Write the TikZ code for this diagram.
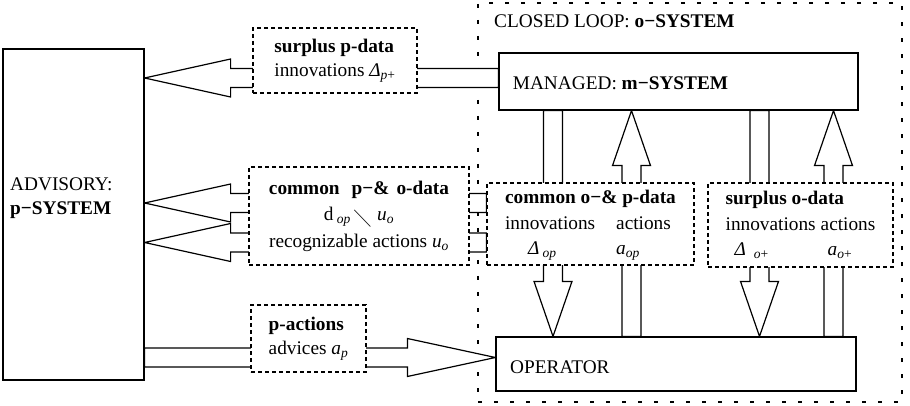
\documentclass[tikz,border=0pt]{standalone}
\usepackage{amssymb}
\usepackage{fontspec}
\setmainfont{Liberation Serif}
\usepackage{tikz}
\usetikzlibrary{calc, backgrounds}
\renewcommand{\arraystretch}{1.05}
\tikzset{
  sysblock/.style={rectangle, draw, fill=white, inner sep=0pt, line width=1.2pt},
  datablock/.style={rectangle, draw, fill=white, inner sep=0pt,
    line width=1.1pt, dash pattern=on 4pt off 3pt},
  loopblock/.style={rectangle, draw, inner sep=0pt,
    line width=1.1pt, dash pattern=on 4pt off 12pt},
  txt/.style={inner sep=0pt, anchor=base west},
  fatarrow/.style={draw, fill=white, line width=1.2pt, to path={
      ($(\tikztostart)!9.5pt!90:(\tikztotarget)$)
      -- ($(\tikztotarget)!#1!(\tikztostart)!9.5pt!90:(\tikztotarget)$)
      -- ($(\tikztotarget)!#1!(\tikztostart)!19pt!90:(\tikztotarget)$)
      -- (\tikztotarget)
      -- ($(\tikztotarget)!#1!(\tikztostart)!19pt!-90:(\tikztotarget)$)
      -- ($(\tikztotarget)!#1!(\tikztostart)!9.5pt!-90:(\tikztotarget)$)
      -- ($(\tikztostart)!9.5pt!-90:(\tikztotarget)$) -- cycle}}
}

\begin{document}
\begin{tikzpicture}[x=1pt, y=-1pt, every node/.style={font=\fontsize{19.3}{24}\selectfont}]
  \useasboundingbox (0,0) rectangle (910,406);

  % Systems
  \node[sysblock, minimum width=141pt, minimum height=331pt] (adv) at (73.5,214.5) {};
  \node[sysblock, minimum width=359pt, minimum height=57pt] (mng) at (678.5,81.5) {};
  \node[sysblock, minimum width=360pt, minimum height=54pt] (opr) at (676,364) {};

  \node[inner sep=0pt, anchor=west, align=left] (advtxt) at (10,198) {ADVISORY:\\\textbf{p−SYSTEM}};
  \node[txt] (looptxt) at (494,27.3) {CLOSED LOOP: \textbf{o−SYSTEM}};
  \node[txt] (mngtxt) at (512.7,89.3) {MANAGED: \textbf{m−SYSTEM}};
  \node[txt] (oprtxt) at (510,373.3) {OPERATOR};

  % Data boxes
  \node[datablock, minimum width=164pt, minimum height=65pt, align=left] (surp) at (335,60.5)
    {\textbf{surplus p-data}\\innovations \textit{Δ}\textsubscript{\textit{p}+}};
  \node[datablock, minimum width=220pt, minimum height=98pt, align=center] (comm) at (359,216)
    {\textbf{common\hspace{12pt}p−\&\hspace{7pt}o-data}\\[2pt]
     d\,\textsubscript{\textit{op}}\,\raisebox{-3pt}{$\diagdown$}\hspace{6pt}\textit{u}\textsubscript{\textit{o}}\\[3pt]
     recognizable actions \textit{u}\textsubscript{\textit{o}}};
  \node[datablock, minimum width=115pt, minimum height=67pt, align=left] (pact) at (308.5,338.5)
    {\textbf{p-actions}\\advices \textit{a}\textsubscript{\textit{p}}};
  \node[datablock, minimum width=207pt, minimum height=82pt] (comop) at (590.5,224)
    {\begin{tabular}{@{}l@{\hspace{21pt}}l@{}}
       \multicolumn{2}{@{}l@{}}{\textbf{common o−\& p-data}}\\
       innovations & actions\\
       \hspace{23pt}\textit{Δ}\,\textsubscript{\textit{op}} & \textit{a}\textsubscript{\textit{op}}
     \end{tabular}};
  \node[datablock, minimum width=185pt, minimum height=84pt] (surpo) at (800.5,225)
    {\begin{tabular}{@{}l@{\hspace{5pt}}l@{}}
       \multicolumn{2}{@{}l@{}}{\textbf{surplus o-data}}\\
       innovations & actions\\
       \hspace{9pt}\textit{Δ}\hspace{8pt}\textsubscript{\textit{o}+} & \hspace{7pt}\textit{a}\textsubscript{\textit{o}+}
     \end{tabular}};

  % Arrow ends
  \coordinate (mngout) at ([yshift=3.5pt]mng.west);
  \coordinate (comout1) at ([yshift=21pt]comop.west);
  \coordinate (comout2) at ([yshift=-18.5pt]comop.west);
  \coordinate (oprin) at ([yshift=6.5pt]opr.west);
  \coordinate (down1) at ([xshift=-125.5pt]mng.south);
  \coordinate (up1) at ([xshift=-47pt]mng.south);
  \coordinate (down2) at ([xshift=81pt]mng.south);
  \coordinate (up2) at ([xshift=155pt]mng.south);

  \begin{scope}[on background layer]
    % Closed loop frame
    \node[loopblock, minimum width=424pt, minimum height=399pt] (loop) at (690,202.5) {};

    % Fat arrows
    \draw[fatarrow=86pt] (mngout) to (adv.east |- mngout);
    \draw[fatarrow=86pt] (comout1) to (adv.east |- comout1);
    \draw[fatarrow=86pt] (comout2) to (adv.east |- comout2);
    \draw[fatarrow=88pt] (adv.east |- oprin) to (oprin);
    \draw[fatarrow=55pt] (down1) to (down1 |- opr.north);
    \draw[fatarrow=55pt] (up1 |- opr.north) to (up1);
    \draw[fatarrow=55pt] (down2) to (down2 |- opr.north);
    \draw[fatarrow=55pt] (up2 |- opr.north) to (up2);
  \end{scope}
\end{tikzpicture}
\end{document}
